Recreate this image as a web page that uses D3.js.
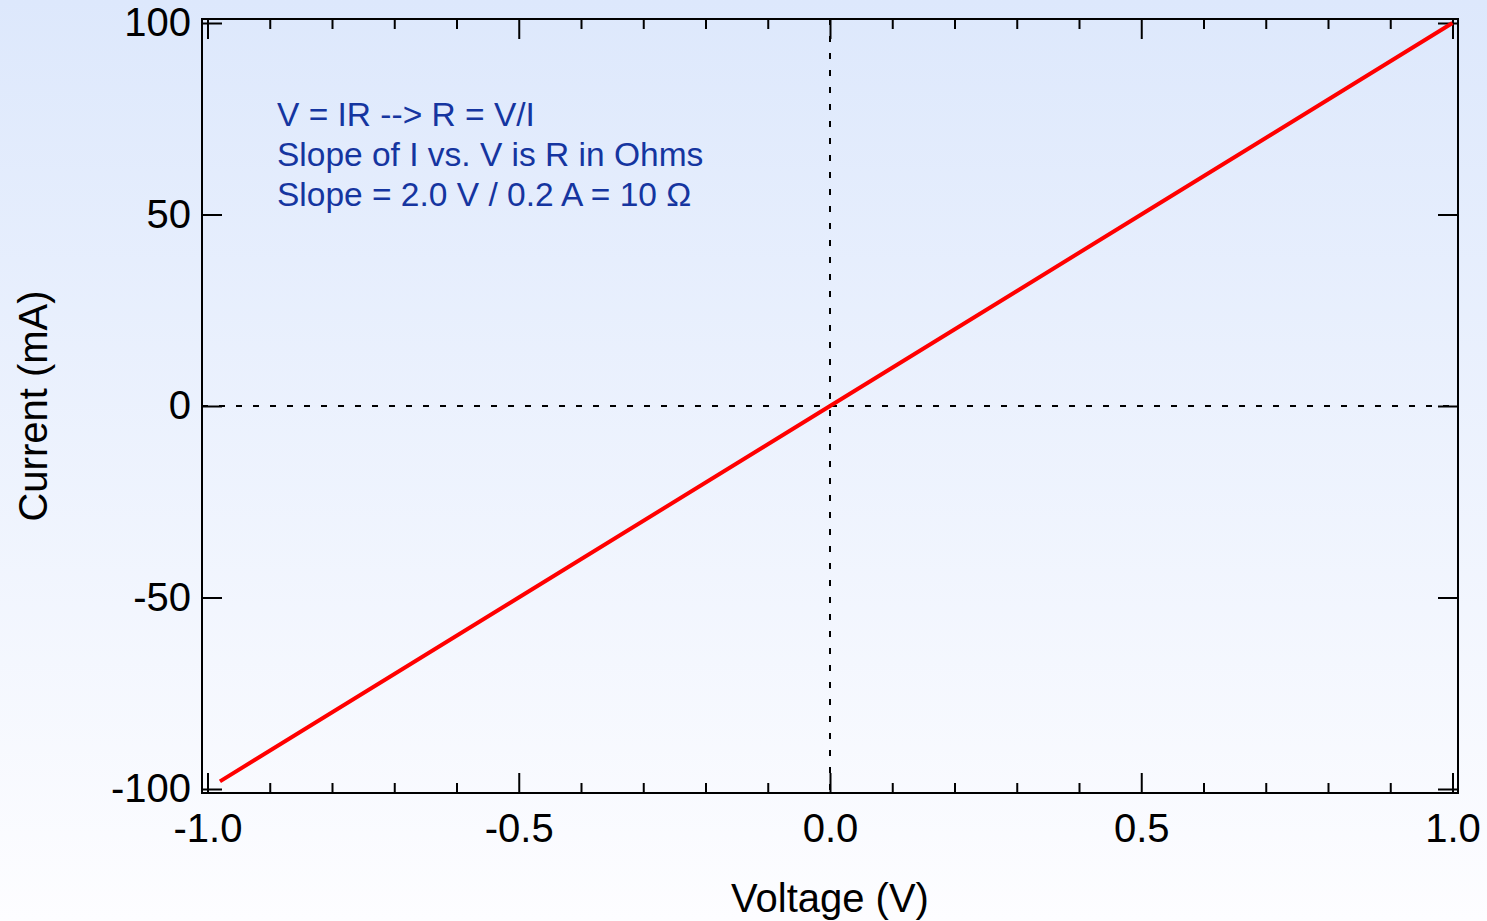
<!doctype html>
<html>
<head>
<meta charset="utf-8">
<title>Current vs Voltage</title>
<style>
  body { margin: 0; background: #ffffff; }
  svg { display: block; }
  text { font-family: "Liberation Sans", Arial, sans-serif; }
</style>
</head>
<body>
<svg width="1487" height="921" id="chart"></svg>
<script src="https://d3js.org/d3.v7.min.js"></script>
<script>
// data
var voltage = [-0.98, -0.5, 0.0, 0.5, 1.0];     // V
var current = [-98, -50, 0, 50, 100];            // mA
var xTicks = [-1.0, -0.5, 0.0, 0.5, 1.0];
var xTickLabels = ["-1.0", "-0.5", "0.0", "0.5", "1.0"];
var yTicks = [-100, -50, 0, 50, 100];
var yTickLabels = ["-100", "-50", "0", "50", "100"];
var xMinor = [-0.9, -0.8, -0.7, -0.6, -0.4, -0.3, -0.2, -0.1, 0.1, 0.2, 0.3, 0.4, 0.6, 0.7, 0.8, 0.9];
var note = ["V = IR --> R = V/I", "Slope of I vs. V is R in Ohms", "Slope = 2.0 V / 0.2 A = 10 \u03A9"];

var svg = d3.select("#chart"),
    width = +svg.attr("width"),
    height = +svg.attr("height");

// background gradient
var defs = svg.append("defs");
var grad = defs.append("linearGradient").attr("id", "bg")
    .attr("x1", 0).attr("y1", 0).attr("x2", 0).attr("y2", 1);
grad.append("stop").attr("offset", "0%").attr("stop-color", "#dde8fc");
grad.append("stop").attr("offset", "100%").attr("stop-color", "#fdfdff");
svg.append("rect").attr("width", width).attr("height", height).attr("fill", "url(#bg)");

// frame and scales
var frame = {left: 202, right: 1458, top: 19, bottom: 793};
var x = d3.scaleLinear().domain([-1, 1]).range([207.5, 1452.5]);
var y = d3.scaleLinear().domain([-100, 100]).range([789, 23]);

var fontSize = 40;

// zero lines (dotted)
svg.append("line")
    .attr("x1", x(0)).attr("x2", x(0))
    .attr("y1", frame.top).attr("y2", frame.bottom)
    .attr("stroke", "#000").attr("stroke-width", 2).attr("stroke-dasharray", "6,11");
svg.append("line")
    .attr("x1", frame.left).attr("x2", frame.right)
    .attr("y1", y(0)).attr("y2", y(0))
    .attr("stroke", "#000").attr("stroke-width", 2).attr("stroke-dasharray", "6,11");

// axes: ticks point inward
function styleAxis(g) {
  g.select(".domain").remove();
  g.selectAll("line").attr("stroke", "#000").attr("stroke-width", 2);
  g.selectAll("text").attr("fill", "#000").style("font-size", fontSize + "px")
    .style("font-family", "Liberation Sans, Arial, sans-serif");
}

svg.append("g").attr("transform", "translate(0," + frame.bottom + ")")
    .call(d3.axisBottom(x).tickValues(xTicks).tickSize(-20).tickPadding(21)
      .tickFormat(function(d, i) { return xTickLabels[i]; }))
    .call(styleAxis);
svg.append("g").attr("transform", "translate(0," + frame.bottom + ")")
    .call(d3.axisBottom(x).tickValues(xMinor).tickSize(-10).tickFormat(""))
    .call(styleAxis);
svg.append("g").attr("transform", "translate(0," + frame.top + ")")
    .call(d3.axisTop(x).tickValues(xTicks).tickSize(-20).tickFormat(""))
    .call(styleAxis);
svg.append("g").attr("transform", "translate(0," + frame.top + ")")
    .call(d3.axisTop(x).tickValues(xMinor).tickSize(-10).tickFormat(""))
    .call(styleAxis);
svg.append("g").attr("transform", "translate(" + frame.left + ",0)")
    .call(d3.axisLeft(y).tickValues(yTicks).tickSize(-20).tickPadding(11)
      .tickFormat(function(d, i) { return yTickLabels[i]; }))
    .call(styleAxis);
svg.append("g").attr("transform", "translate(" + frame.right + ",0)")
    .call(d3.axisRight(y).tickValues(yTicks).tickSize(-20).tickFormat(""))
    .call(styleAxis);

// frame box
svg.append("rect")
    .attr("x", frame.left).attr("y", frame.top)
    .attr("width", frame.right - frame.left).attr("height", frame.bottom - frame.top)
    .attr("fill", "none").attr("stroke", "#000").attr("stroke-width", 2);

// the trace
var line = d3.line()
    .x(function(d, i) { return x(voltage[i]); })
    .y(function(d, i) { return y(current[i]); });
svg.append("path")
    .datum(voltage)
    .attr("d", line)
    .attr("fill", "none")
    .attr("stroke", "#ff0000")
    .attr("stroke-width", 4);

// axis titles
svg.append("text")
    .attr("x", (frame.left + frame.right) / 2).attr("y", 912)
    .attr("text-anchor", "middle")
    .style("font-size", fontSize + "px")
    .text("Voltage (V)");
svg.append("text")
    .attr("transform", "translate(47," + y(0) + ") rotate(-90)")
    .attr("text-anchor", "middle")
    .style("font-size", fontSize + "px")
    .text("Current (mA)");

// annotation
svg.append("g").selectAll("text")
    .data(note)
    .enter().append("text")
    .attr("x", 277)
    .attr("y", function(d, i) { return 126 + i * 40; })
    .attr("fill", "#1535a0")
    .style("font-size", "33.5px")
    .text(function(d) { return d; });
</script>
</body>
</html>
